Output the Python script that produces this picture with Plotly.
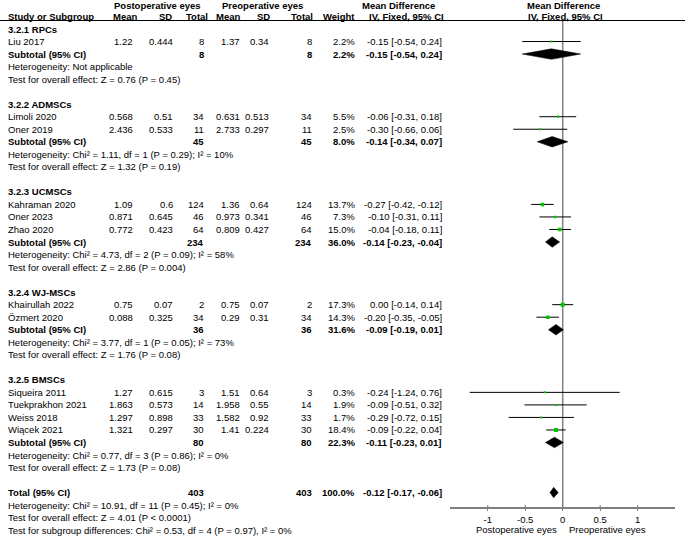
import math
import plotly.graph_objects as go

# ---------------- data ----------------
group_names = ["3.2.1 RPCs", "3.2.2 ADMSCs", "3.2.3 UCMSCs", "3.2.4 WJ-MSCs", "3.2.5 BMSCs"]
studies = ["Liu 2017", "Limoli 2020", "Oner 2019", "Kahraman 2020", "Oner 2023", "Zhao 2020",
           "Khairullah 2022", "Özmert 2020", "Siqueira 2011", "Tuekprakhon 2021", "Weiss 2018", "Wiącek 2021"]
study_group = [0, 1, 1, 2, 2, 2, 3, 3, 4, 4, 4, 4]
post_mean = ["1.22", "0.568", "2.436", "1.09", "0.871", "0.772", "0.75", "0.088", "1.27", "1.863", "1.297", "1.321"]
post_sd = ["0.444", "0.51", "0.533", "0.6", "0.645", "0.423", "0.07", "0.325", "0.615", "0.573", "0.898", "0.297"]
post_n = [8, 34, 11, 124, 46, 64, 2, 34, 3, 14, 33, 30]
pre_mean = ["1.37", "0.631", "2.733", "1.36", "0.973", "0.809", "0.75", "0.29", "1.51", "1.958", "1.582", "1.41"]
pre_sd = ["0.34", "0.513", "0.297", "0.64", "0.341", "0.427", "0.07", "0.31", "0.64", "0.55", "0.92", "0.224"]
pre_n = [8, 34, 11, 124, 46, 64, 2, 34, 3, 14, 33, 30]
weights = [2.2, 5.5, 2.5, 13.7, 7.3, 15.0, 17.3, 14.3, 0.3, 1.9, 1.7, 18.4]
md = [-0.15, -0.06, -0.30, -0.27, -0.10, -0.04, 0.00, -0.20, -0.24, -0.09, -0.29, -0.09]
ci_lo = [-0.54, -0.31, -0.66, -0.42, -0.31, -0.18, -0.14, -0.35, -1.24, -0.51, -0.72, -0.22]
ci_hi = [0.24, 0.18, 0.06, -0.12, 0.11, 0.11, 0.14, -0.05, 0.76, 0.32, 0.15, 0.04]

sub_post_n = [8, 45, 234, 36, 80]
sub_pre_n = [8, 45, 234, 36, 80]
sub_weight = [2.2, 8.0, 36.0, 31.6, 22.3]
sub_md = [-0.15, -0.14, -0.14, -0.09, -0.11]
sub_lo = [-0.54, -0.34, -0.23, -0.19, -0.23]
sub_hi = [0.24, 0.07, -0.04, 0.01, 0.01]
sub_het = ["Heterogeneity: Not applicable",
           "Heterogeneity: Chi² = 1.11, df = 1 (P = 0.29); I² = 10%",
           "Heterogeneity: Chi² = 4.73, df = 2 (P = 0.09); I² = 58%",
           "Heterogeneity: Chi² = 3.77, df = 1 (P = 0.05); I² = 73%",
           "Heterogeneity: Chi² = 0.77, df = 3 (P = 0.86); I² = 0%"]
sub_z = ["Test for overall effect: Z = 0.76 (P = 0.45)",
         "Test for overall effect: Z = 1.32 (P = 0.19)",
         "Test for overall effect: Z = 2.86 (P = 0.004)",
         "Test for overall effect: Z = 1.76 (P = 0.08)",
         "Test for overall effect: Z = 1.73 (P = 0.08)"]

total_post_n = 403
total_pre_n = 403
total_weight = 100.0
total_md = -0.12
total_lo = -0.17
total_hi = -0.06
total_het = "Heterogeneity: Chi² = 10.91, df = 11 (P = 0.45); I² = 0%"
total_z = "Test for overall effect: Z = 4.01 (P < 0.0001)"
subgroup_test = "Test for subgroup differences: Chi² = 0.53, df = 4 (P = 0.97), I² = 0%"

tick_vals = [-1, -0.5, 0, 0.5, 1]
tick_text = ["-1", "-0.5", "0", "0.5", "1"]
favours_left = "Postoperative eyes"
favours_right = "Preoperative eyes"

# ---------------- layout constants ----------------
W, H = 685, 542
ROW0 = 29.0      # pixel y of first row
RH = 12.53       # row height in px
FONT = "Liberation Sans, Arial, sans-serif"
FS = 9.5
GREEN = "#00c800"
GRAY = "#808080"

def prow(py):
    return (py - ROW0) / RH

def px(x):
    return x / W

# column right edges (px)
C_NAME = 7
C_PM, C_PSD, C_PN = 133.5, 173.5, 204.5
C_QM, C_QSD, C_QN = 240.5, 269.5, 312.5
C_W, C_CI = 355.5, 442.5

annotations = []

def txt(x, row, s, anchor="right", bold=False, xref="paper", xshift=0):
    annotations.append(dict(
        x=x, y=row, xref=xref, yref="y", text=(f"<b>{s}</b>" if bold else s),
        showarrow=False, xanchor=anchor, yanchor="middle", xshift=xshift,
        borderpad=0, font=dict(family=FONT, size=FS, color="black")))

def ci_str(m, lo, hi):
    return f"{m:.2f} [{lo:.2f}, {hi:.2f}]"

# headers
HR = prow(5.2)
txt(px(157), HR, "Postoperative eyes", anchor="center", bold=True)
txt(px(262), HR, "Preoperative eyes", anchor="center", bold=True)
txt(px(398), HR, "Mean Difference", anchor="center", bold=True)
txt(px(563), HR, "Mean Difference", anchor="center", bold=True)
txt(px(C_NAME), -1, "Study or Subgroup", anchor="left", bold=True)
txt(px(137.5), -1, "Mean", bold=True)
txt(px(172.5), -1, "SD", bold=True)
txt(px(208.5), -1, "Total", bold=True)
txt(px(240.5), -1, "Mean", bold=True)
txt(px(270.5), -1, "SD", bold=True)
txt(px(313.5), -1, "Total", bold=True)
txt(px(355.5), -1, "Weight", bold=True)
txt(px(445.5), -1, "IV, Fixed, 95% CI", bold=True)
txt(px(565), -1, "IV, Fixed, 95% CI", anchor="center", bold=True)

traces = []
row = 0
for g, gname in enumerate(group_names):
    txt(px(C_NAME), row, gname, anchor="left", bold=True)
    row += 1
    for i, s in enumerate(studies):
        if study_group[i] != g:
            continue
        txt(px(C_NAME), row, s, anchor="left")
        txt(px(C_PM), row, post_mean[i])
        txt(px(C_PSD), row, post_sd[i])
        txt(px(C_PN), row, str(post_n[i]))
        txt(px(C_QM), row, pre_mean[i])
        txt(px(C_QSD), row, pre_sd[i])
        txt(px(C_QN), row, str(pre_n[i]))
        txt(px(C_W), row, f"{weights[i]:.1f}%")
        txt(px(C_CI), row, ci_str(md[i], ci_lo[i], ci_hi[i]))
        traces.append(go.Scatter(x=[ci_lo[i], ci_hi[i]], y=[row, row], xaxis="x2", yaxis="y",
                                 mode="lines", line=dict(color="black", width=1),
                                 hoverinfo="skip", showlegend=False))
        traces.append(go.Scatter(x=[md[i]], y=[row], xaxis="x2", yaxis="y", mode="markers",
                                 marker=dict(symbol="square", color=GREEN,
                                             size=max(2.0, math.sqrt(weights[i]) * 0.95),
                                             line=dict(width=0)),
                                 hoverinfo="skip", showlegend=False))
        row += 1
    # subtotal
    txt(px(C_NAME), row, "Subtotal (95% CI)", anchor="left", bold=True)
    txt(px(C_PN), row, str(sub_post_n[g]), bold=True)
    txt(px(C_QN), row, str(sub_pre_n[g]), bold=True)
    txt(px(C_W), row, f"{sub_weight[g]:.1f}%", bold=True)
    txt(px(C_CI), row, ci_str(sub_md[g], sub_lo[g], sub_hi[g]), bold=True)
    hh = 0.42
    traces.append(go.Scatter(
        x=[sub_lo[g], sub_md[g], sub_hi[g], sub_md[g], sub_lo[g]],
        y=[row, row - hh, row, row + hh, row], xaxis="x2", yaxis="y",
        mode="lines", fill="toself", fillcolor="black", line=dict(color="black", width=0.5),
        hoverinfo="skip", showlegend=False))
    row += 1
    txt(px(C_NAME), row, sub_het[g], anchor="left")
    row += 1
    txt(px(C_NAME), row, sub_z[g], anchor="left")
    row += 2

# total
txt(px(C_NAME), row, "Total (95% CI)", anchor="left", bold=True)
txt(px(C_PN), row, str(total_post_n), bold=True)
txt(px(C_QN), row, str(total_pre_n), bold=True)
txt(px(C_W), row, f"{total_weight:.1f}%", bold=True)
txt(px(C_CI), row, ci_str(total_md, total_lo, total_hi), bold=True)
hh = 0.42
traces.append(go.Scatter(
    x=[total_lo, total_md, total_hi, total_md, total_lo],
    y=[row, row - hh, row, row + hh, row], xaxis="x2", yaxis="y",
    mode="lines", fill="toself", fillcolor="black", line=dict(color="black", width=0.5),
    hoverinfo="skip", showlegend=False))
txt(px(C_NAME), row + 1, total_het, anchor="left")
txt(px(C_NAME), row + 2, total_z, anchor="left")
txt(px(C_NAME), row + 3, subgroup_test, anchor="left")

AXIS_PY = 507.7
axis_row = prow(AXIS_PY)

# favours labels
txt(0, prow(529), favours_left, anchor="right", xref="x2", xshift=-5)
txt(0, prow(529), favours_right, anchor="left", xref="x2", xshift=5)

# upper half of crossing ticks
tx, ty = [], []
for v in tick_vals:
    tx += [v, v, None]
    ty += [axis_row, axis_row - 2.5 / RH, None]
traces.append(go.Scatter(x=tx, y=ty, xaxis="x2", yaxis="y", mode="lines",
                         line=dict(color=GRAY, width=1.2), hoverinfo="skip", showlegend=False))

fig = go.Figure(data=traces)

shapes = [
    dict(type="line", xref="paper", yref="y", x0=0, x1=1, y0=prow(20.5), y1=prow(20.5),
         line=dict(color="black", width=1)),
    dict(type="line", xref="x2", yref="y", x0=0, x1=0, y0=prow(20.5), y1=axis_row,
         line=dict(color=GRAY, width=1.5), layer="below"),
]

fig.update_layout(
    width=W, height=H, autosize=False,
    margin=dict(l=0, r=0, t=0, b=0, pad=0),
    paper_bgcolor="white", plot_bgcolor="white",
    showlegend=False,
    xaxis=dict(visible=False, range=[0, 1], domain=[0, 1], fixedrange=True),
    xaxis2=dict(domain=[450.2 / W, 675.2 / W], range=[-1.5, 1.5], anchor="free",
                position=1 - AXIS_PY / H, showline=True, linecolor=GRAY, linewidth=1.5,
                ticks="outside", ticklen=3, tickwidth=1.2, tickcolor=GRAY,
                tickvals=tick_vals, ticktext=tick_text, showgrid=False, zeroline=False,
                tickfont=dict(family=FONT, size=FS, color="black"), fixedrange=True),
    yaxis=dict(visible=False, range=[prow(H), prow(0)], domain=[0, 1], fixedrange=True),
    annotations=annotations,
    shapes=shapes,
)

fig.write_html("out.html", config={"displayModeBar": False},
               post_script="document.body.style.margin='0';document.body.style.padding='0';")
